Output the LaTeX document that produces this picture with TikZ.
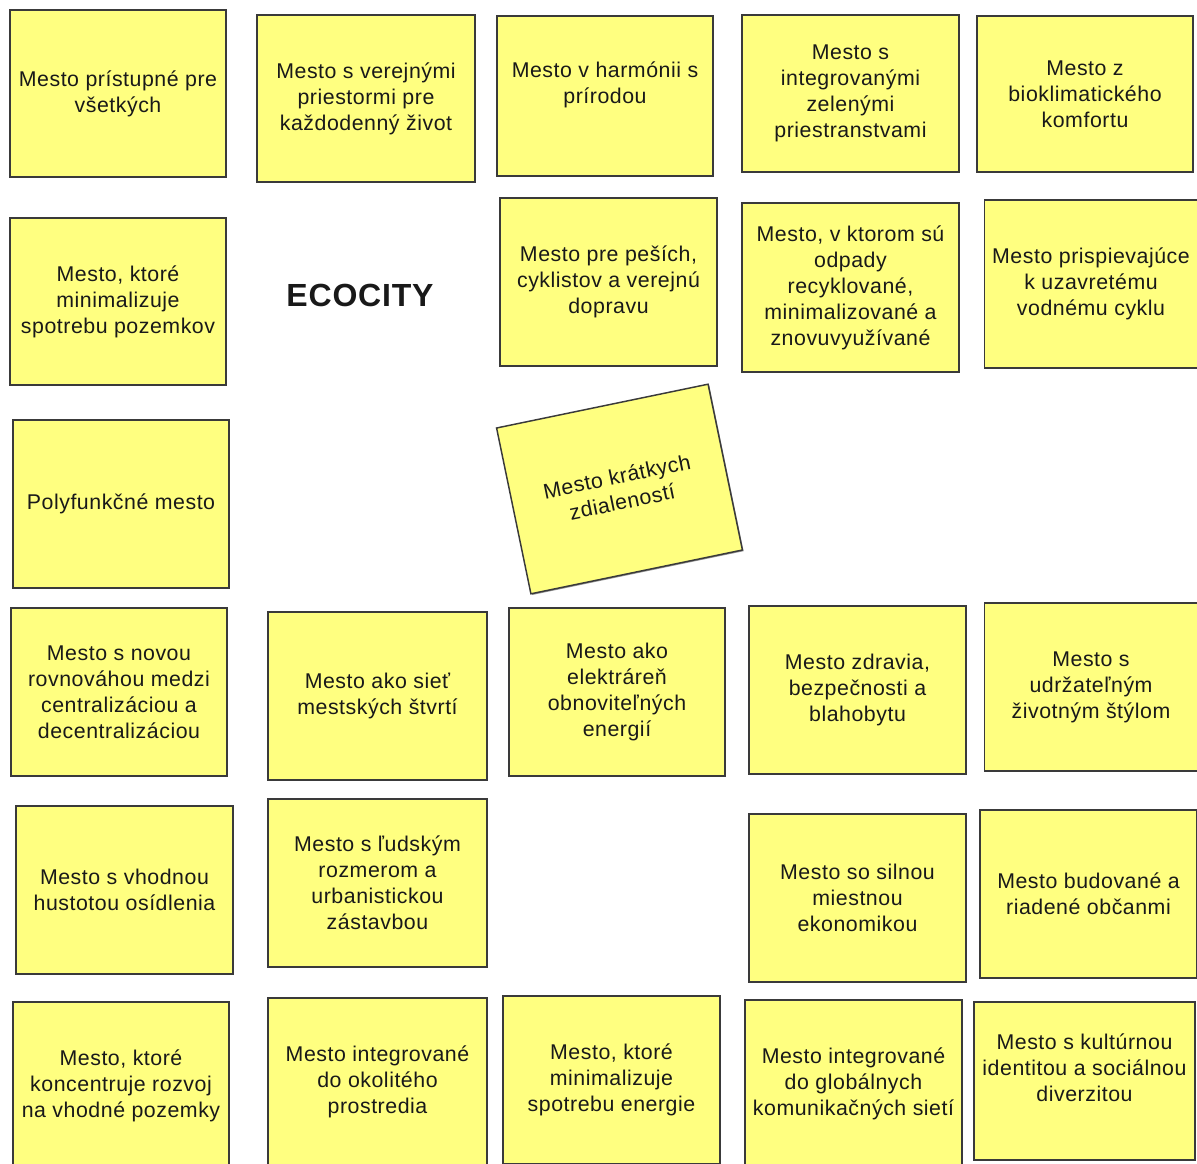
\documentclass[tikz,border=0pt]{standalone}
\usepackage{fontspec}
\setmainfont[LetterSpace = 2.5]{Liberation Sans}
\usetikzlibrary{shadows}
\definecolor{noteyellow}{RGB}{255,255,128}
\definecolor{noteedge}{RGB}{58,58,58}

\begin{document}
\begin{tikzpicture}[x = 0.75pt, y = -0.75pt, every node/.style = {align = center, font = \fontsize{16pt}{19.5pt}\selectfont, text = black!90},
	note/.style = {rectangle, draw = noteedge, line width = 1.1pt, fill = noteyellow, minimum width = 162pt, minimum height = 126pt, inner sep = 0pt,
		drop shadow = {shadow xshift = 0.9pt, shadow yshift = -0.9pt, opacity = 0.6, fill = black!70}}]

	\useasboundingbox (0, 0) rectangle (1197, 1164);
	\clip (0, 0) rectangle (1197, 1164);

	% first row
	\node (ACC)  at ( 118,   93.5) [note, minimum height = 125pt] {Mesto prístupné pre\\všetkých};
	\node (PUB)  at ( 366,   98.5) [note, minimum width = 163.5pt, minimum height = 125pt] {Mesto s verejnými\\priestormi pre\\každodenný život};
	\node (HAR)  at ( 605,   96)   [note, minimum height = 120pt] {Mesto v harmónii s\\prírodou\\\mbox{}};
	\node (GRN)  at ( 850.5, 93.5) [note, minimum width = 163pt, minimum height = 118pt] {Mesto s\\integrovanými\\zelenými\\priestranstvami};
	\node (BIO)  at (1085,   94)   [note, minimum height = 117pt] {Mesto z\\bioklimatického\\komfortu};

	% second row
	\node (LAND) at ( 118,  301.5) [note, minimum height = 125pt] {Mesto, ktoré\\minimalizuje\\spotrebu pozemkov};
	\node (ECO)  at ( 360,  295)   [font = \fontsize{24pt}{28pt}\bfseries\selectfont] {ECOCITY};
	\node (MOB)  at ( 608.5, 282)  [note, minimum width = 163pt] {Mesto pre peších,\\cyklistov a verejnú\\dopravu};
	\node (WST)  at ( 850.5, 287.5) [note, minimum width = 163pt, minimum height = 127pt] {Mesto, v ktorom sú\\odpady\\recyklované,\\minimalizované a\\znovuvyužívané};
	\node (WAT)  at (1091,  284)   [note, minimum width = 160pt] {Mesto prispievajúce\\k uzavretému\\vodnému cyklu};

	% third row
	\node (POLY) at ( 121,  504)   [note] {Polyfunkčné mesto};
	\node (SHRT) at ( 619.5, 489)  [note, rotate = 11.7, minimum height = 127pt] {Mesto krátkych\\zdialeností};

	% fourth row
	\node (BAL)  at ( 119,  692)   [note] {Mesto s novou\\rovnováhou medzi\\centralizáciou a\\decentralizáciou};
	\node (NET)  at ( 377.5, 696)  [note, minimum width = 164pt] {Mesto ako sieť\\mestských štvrtí};
	\node (PWR)  at ( 617,  692)   [note] {Mesto ako\\elektráreň\\obnoviteľných\\energií};
	\node (HLT)  at ( 857.5, 690)  [note, minimum width = 163pt] {Mesto zdravia,\\bezpečnosti a\\blahobytu};
	\node (LIFE) at (1091,  687)   [note, minimum width = 160pt] {Mesto s\\udržateľným\\životným štýlom};

	% fifth row
	\node (DEN)  at ( 124.5, 890)  [note, minimum width = 163pt] {Mesto s vhodnou\\hustotou osídlenia};
	\node (HUM)  at ( 377.5, 883)  [note, minimum width = 164pt] {Mesto s ľudským\\rozmerom a\\urbanistickou\\zástavbou};
	\node (ECON) at ( 857.5, 898)  [note, minimum width = 163pt] {Mesto so silnou\\miestnou\\ekonomikou};
	\node (CIT)  at (1088.5, 894)  [note, minimum width = 163pt] {Mesto budované a\\riadené občanmi};

	% sixth row, cut by the lower edge
	\node (DEV)  at ( 121, 1086)   [note] {Mesto, ktoré\\koncentruje rozvoj\\na vhodné pozemky};
	\node (ENV)  at ( 377.5, 1082) [note, minimum width = 164pt] {Mesto integrované\\do okolitého\\prostredia};
	\node (ENE)  at ( 611.5, 1080) [note, minimum width = 163pt] {Mesto, ktoré\\minimalizuje\\spotrebu energie};
	\node (COM)  at ( 853.5, 1084) [note, minimum width = 163pt] {Mesto integrované\\do globálnych\\komunikačných sietí};
	\node (CUL)  at (1084.5, 1081) [note, minimum width = 166pt, minimum height = 118.5pt] {Mesto s kultúrnou\\identitou a sociálnou\\diverzitou\\\mbox{}};
\end{tikzpicture}
\end{document}
